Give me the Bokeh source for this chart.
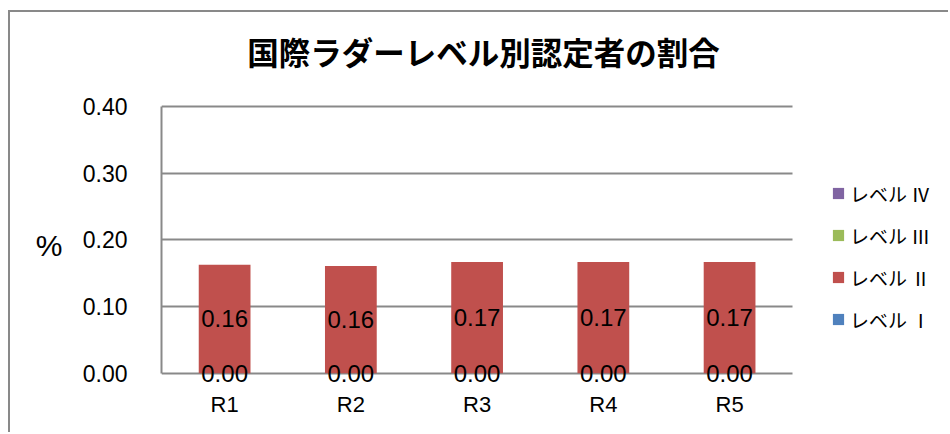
from bokeh.plotting import figure
from bokeh.models import (Range1d, Legend, LegendItem, ColumnDataSource, Label,
                          NumeralTickFormatter, FixedTicker, LinearAxis)
from bokeh.core.properties import value
from bokeh.embed import file_html
from bokeh.resources import INLINE

# ---- data ----
categories = ["R1", "R2", "R3", "R4", "R5"]
level1 = [0.00, 0.00, 0.00, 0.00, 0.00]
level2 = [0.163, 0.161, 0.167, 0.167, 0.167]
level3 = [0.00, 0.00, 0.00, 0.00, 0.00]
level4 = [0.00, 0.00, 0.00, 0.00, 0.00]
series_names = ["レベル Ⅰ", "レベル Ⅱ", "レベル Ⅲ", "レベル Ⅳ"]
series_colors = ["#4F81BD", "#C0504D", "#9BBB59", "#8064A2"]
y_ticks = [0.0, 0.1, 0.2, 0.3, 0.4]
title_text = "国際ラダーレベル別認定者の割合"
y_title = "%"

GRID = "#898989"

# category slot centres on a numeric axis (one unit per category)
x_pos = [i + 0.5 for i in range(len(categories))]

src = ColumnDataSource(dict(x=x_pos, cat=categories, l1=level1, l2=level2,
                            l3=level3, l4=level4))

p = figure(x_range=Range1d(0, 6.25), y_range=Range1d(-0.02, 0.5416), title=None,
           width=940, height=422, output_backend="svg", toolbar_location=None,
           min_border_left=151, min_border_right=0, min_border_top=0,
           min_border_bottom=48)
p.styles = {"border-left": "2px solid #898989", "border-top": "2px solid #898989",
            "margin-top": "10px", "margin-left": "8px"}
p.outline_line_color = None
p.background_fill_color = "white"
p.border_fill_color = "white"

# chart title
p.add_layout(Label(x=322, y=336, x_units="screen", y_units="screen",
                   text=title_text, text_align="center", text_baseline="middle",
                   text_font="Noto Sans CJK JP", text_font_style="bold",
                   text_font_size="31.5px", text_color="#000000"))

rs = p.vbar_stack(["l1", "l2", "l3", "l4"], x="x", width=0.41, source=src,
                  fill_color=series_colors, line_color=None)

# data labels (level I and level II)
lab1_y = [a / 2 for a in level1]
lab2_y = [a + b / 2 for a, b in zip(level1, level2)]
lab_src = ColumnDataSource(dict(x=x_pos,
                                y1=lab1_y, t1=["%.2f" % v for v in level1],
                                y2=lab2_y, t2=["%.2f" % v for v in level2]))
for yk, tk in (("y2", "t2"), ("y1", "t1")):
    p.text(x="x", y=yk, text=tk, source=lab_src, text_align="center",
           text_baseline="middle", text_font=value("Liberation Sans"),
           text_font_size="24px", text_color="#000000")

# axes & grid
p.xgrid.grid_line_color = None
p.ygrid.ticker = y_ticks
p.ygrid.grid_line_color = GRID
p.ygrid.grid_line_width = 2
p.ygrid.cross_bounds = (0, len(categories))

p.yaxis.ticker = y_ticks
p.yaxis.bounds = (0, 0.4)
p.yaxis.formatter = NumeralTickFormatter(format="0.00")
p.yaxis.axis_line_color = GRID
p.yaxis.axis_line_width = 2
p.yaxis.major_tick_line_color = None
p.yaxis.minor_tick_line_color = None
p.yaxis.major_label_standoff = 28
p.yaxis.major_label_text_font = "Liberation Sans"
p.yaxis.major_label_text_font_size = "23px"
p.yaxis.major_label_text_color = "#000000"

# y-axis title "%" set beside the axis, level with the middle of the scale
pct_at = 0.1917
title_axis = LinearAxis(ticker=FixedTicker(ticks=[pct_at]),
                        major_label_overrides={pct_at: y_title},
                        axis_line_color=None, major_tick_line_color=None,
                        minor_tick_line_color=None, major_tick_out=0,
                        major_tick_in=0, minor_tick_out=0,
                        major_label_standoff=17,
                        major_label_text_font="Liberation Sans",
                        major_label_text_font_size="30px",
                        major_label_text_color="#000000")
p.add_layout(title_axis, "left")

p.xaxis.ticker = FixedTicker(ticks=x_pos)
p.xaxis.major_label_overrides = dict(zip(x_pos, categories))
p.xaxis.axis_line_color = None
p.xaxis.major_tick_line_color = None
p.xaxis.minor_tick_line_color = None
p.xaxis.major_label_standoff = -1
p.xaxis.major_label_text_font = "Liberation Sans"
p.xaxis.major_label_text_font_size = "22px"
p.xaxis.major_label_text_color = "#000000"

# legend (top to bottom: IV, III, II, I)
items = [LegendItem(label=series_names[i], renderers=[rs[i]]) for i in (3, 2, 1, 0)]
legend = Legend(items=items, location=(670, 53), orientation="vertical",
                glyph_width=14, glyph_height=14, label_standoff=5, spacing=14,
                label_height=28, padding=0, margin=0, border_line_color=None,
                background_fill_alpha=0, label_text_font="Noto Sans CJK JP",
                label_text_font_size="19px", label_text_color="#000000")
p.add_layout(legend)

open("out.html", "w").write(file_html(p, INLINE))
